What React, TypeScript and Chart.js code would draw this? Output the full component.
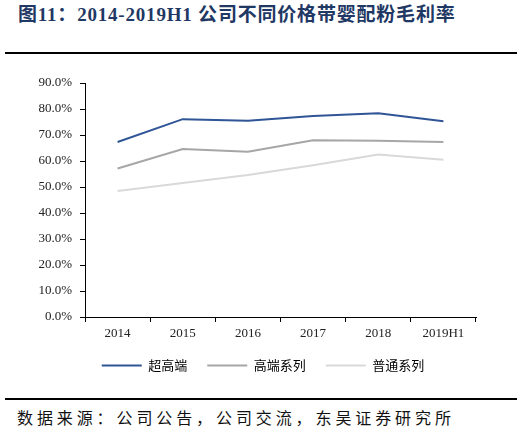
import React, { useEffect, useRef } from "react";
import { Chart, registerables } from "chart.js";

Chart.register(...registerables);

const categories = ["2014", "2015", "2016", "2017", "2018", "2019H1"];
const superPremium = [67.3, 76.1, 75.5, 77.3, 78.4, 75.3];
const premium = [57.1, 64.6, 63.6, 68.0, 67.8, 67.3];
const regular = [48.5, 51.5, 54.6, 58.4, 62.5, 60.5];
const seriesNames = ["超高端", "高端系列", "普通系列"];
const seriesColors = ["#2F5597", "#A6A6A6", "#D9D9D9"];
const yTicksMax = 90;
const yTickStep = 10;

export default function App() {
  const canvasRef = useRef<HTMLCanvasElement | null>(null);

  useEffect(() => {
    const canvas = canvasRef.current;
    if (!canvas) return;
    const seriesData = [superPremium, premium, regular];
    const chart = new Chart(canvas, {
      type: "line",
      data: {
        labels: categories,
        datasets: seriesData.map((d, i) => ({
          label: seriesNames[i],
          data: d,
          borderColor: seriesColors[i],
          backgroundColor: seriesColors[i],
          borderWidth: 2,
          pointRadius: 0,
          pointHoverRadius: 0,
          tension: 0,
          fill: false,
          yAxisID: "y",
        })),
      },
      options: {
        responsive: false,
        animation: false,
        devicePixelRatio: 1,
        layout: { padding: { top: 23, right: 0, bottom: 3, left: 0 } },
        plugins: {
          tooltip: { enabled: false },
          legend: {
            position: "bottom",
            labels: {
              boxWidth: 40,
              boxHeight: 2,
              padding: 20,
              color: "#333",
              font: { family: "'Noto Sans CJK SC', sans-serif", size: 13 },
              generateLabels: (ch: any) =>
                ch.data.datasets.map((ds: any, i: number) => ({
                  text: ds.label,
                  fillStyle: ds.borderColor,
                  strokeStyle: ds.borderColor,
                  lineWidth: 0,
                  hidden: false,
                  datasetIndex: i,
                })),
            },
          },
        },
        scales: {
          x: {
            offset: true,
            grid: {
              offset: true,
              drawOnChartArea: false,
              drawTicks: true,
              tickLength: 5,
              color: "#000",
            },
            border: { color: "#000", width: 1 },
            ticks: {
              color: "#222",
              padding: 4,
              maxRotation: 0,
              font: { family: "'Liberation Serif', serif", size: 13 },
            },
            afterFit: (s: any) => {
              s.height = 22;
            },
          },
          y: {
            min: 0,
            max: yTicksMax,
            grid: {
              drawOnChartArea: false,
              drawTicks: true,
              tickLength: 5,
              color: "#000",
            },
            border: { color: "#000", width: 1 },
            ticks: {
              stepSize: yTickStep,
              color: "#222",
              padding: 8,
              font: { family: "'Liberation Serif', serif", size: 13 },
              callback: (v: any) => Number(v).toFixed(1) + "%",
            },
            afterFit: (s: any) => {
              s.width = 85;
            },
          },
          yRight: {
            position: "right",
            min: 0,
            max: yTicksMax,
            grid: { display: false },
            border: { display: false },
            ticks: { display: false },
            afterFit: (s: any) => {
              s.width = 50;
            },
          },
        },
      },
    });
    return () => chart.destroy();
  }, []);

  return (
    <div
      style={{
        position: "absolute",
        left: 0,
        top: 0,
        width: 526,
        height: 433,
        background: "#fff",
        overflow: "hidden",
      }}
    >
      <div
        style={{
          position: "absolute",
          left: 18,
          top: 4,
          fontFamily: "'Liberation Serif', 'Noto Sans CJK SC', serif",
          fontWeight: "bold",
          fontSize: 19,
          lineHeight: "22px",
          color: "#1F3864",
          whiteSpace: "nowrap",
          letterSpacing: 0.8,
        }}
      >
        图11：2014-2019H1 公司不同价格带婴配粉毛利率
      </div>
      <div
        style={{
          position: "absolute",
          left: 5,
          top: 52,
          width: 512,
          height: 2,
          background: "#000",
        }}
      />
      <canvas
        ref={canvasRef}
        width={526}
        height={325}
        style={{ position: "absolute", left: 0, top: 60, width: 526, height: 325 }}
      />
      <div
        style={{
          position: "absolute",
          left: 5,
          top: 398,
          width: 512,
          height: 2,
          background: "#000",
        }}
      />
      <div
        style={{
          position: "absolute",
          left: 17,
          top: 406,
          fontFamily: "'Noto Sans CJK SC', sans-serif",
          fontSize: 16,
          lineHeight: "22px",
          letterSpacing: 3.9,
          color: "#111",
          whiteSpace: "nowrap",
        }}
      >
        数据来源：公司公告，公司交流，东吴证券研究所
      </div>
    </div>
  );
}
